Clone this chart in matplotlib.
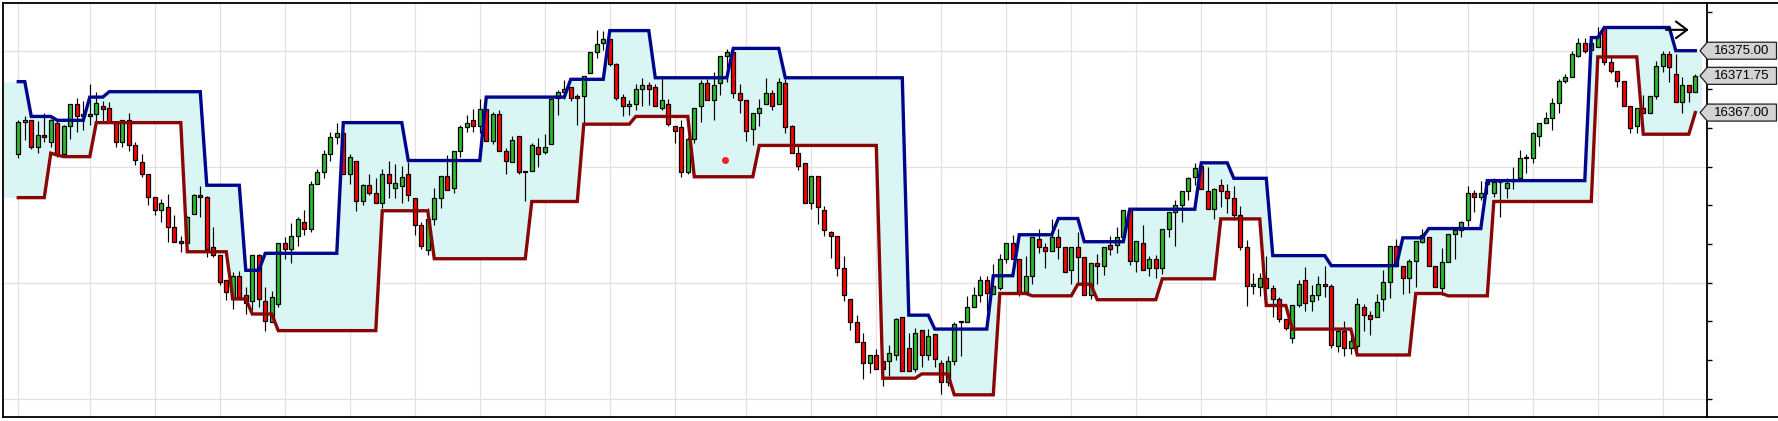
import numpy as np
import matplotlib
matplotlib.use('Agg')
import matplotlib.pyplot as plt
import matplotlib.transforms as mtransforms
from matplotlib.patches import Polygon
from matplotlib.lines import Line2D

# OHLC values, one entry per bar
opens = [16361.6, 16365.75, 16366.05, 16362.5, 16364.07, 16363.25, 16365.7, 16361.6, 16365.2, 16368.1,
         16366.5, 16366.8, 16366.8, 16367.8, 16367.6, 16365.8, 16363.25, 16366.0, 16362.8, 16360.6,
         16359.0, 16356.05, 16354.4, 16354.75, 16352.25, 16350.4, 16350.1, 16353.9, 16356.35, 16356.1,
         16349.6, 16348.6, 16345.4, 16342.85, 16345.9, 16343.4, 16342.6, 16348.6, 16342.6, 16339.9,
         16342.3, 16350.1, 16349.3, 16351.0, 16352.8, 16352.0, 16357.8, 16359.25, 16361.6, 16363.8,
         16364.3, 16359.0, 16360.8, 16355.5, 16357.6, 16356.55, 16355.25, 16359.0, 16357.3, 16357.5,
         16359.0, 16356.0, 16352.5, 16349.2, 16353.3, 16356.0, 16358.8, 16357.3, 16362.0, 16365.1,
         16366.0, 16365.25, 16367.5, 16363.3, 16366.8, 16362.0, 16360.55, 16364.0, 16359.25, 16359.5,
         16362.5, 16361.9, 16363.0, 16368.9, 16369.7, 16370.25, 16369.1, 16369.2, 16372.1, 16374.8,
         16376.0, 16376.5, 16373.3, 16369.0, 16367.8, 16368.1, 16370.0, 16370.55, 16370.3, 16367.6,
         16368.1, 16365.2, 16365.1, 16359.25, 16363.6, 16367.8, 16370.8, 16368.65, 16370.8, 16374.3,
         16374.8, 16369.5, 16368.6, 16364.9, 16367.0, 16368.1, 16369.5, 16368.1, 16370.8, 16365.2,
         16361.75, 16360.5, 16355.3, 16358.8, 16354.35, 16351.6, 16351.0, 16346.9, 16342.9, 16339.9,
         16337.3, 16334.6, 16335.65, 16334.9, 16334.9, 16335.65, 16340.5, 16336.5, 16333.85, 16338.9,
         16335.65, 16338.3, 16334.6, 16332.2, 16334.9, 16339.9, 16339.96, 16341.8, 16343.4, 16345.35,
         16343.6, 16344.3, 16348.0, 16350.1, 16348.0, 16343.75, 16345.9, 16350.6, 16349.6, 16349.1,
         16350.9, 16349.6, 16346.65, 16349.6, 16348.3, 16343.4, 16347.5, 16347.2, 16349.85, 16349.85,
         16350.9, 16354.4, 16347.8, 16350.1, 16346.9, 16348.0, 16346.9, 16352.0, 16354.1, 16355.0,
         16356.9, 16358.7, 16360.1, 16356.8, 16354.5, 16357.6, 16356.8, 16356.0, 16353.8, 16349.6,
         16344.6, 16344.5, 16345.6, 16344.3, 16342.85, 16340.25, 16337.8, 16342.1, 16345.35, 16342.6,
         16343.4, 16344.8, 16344.6, 16336.8, 16338.8, 16336.5, 16336.8, 16341.8, 16340.8, 16340.5,
         16342.85, 16345.05, 16349.8, 16347.2, 16345.6, 16347.8, 16350.3, 16350.95, 16347.1, 16344.3,
         16347.7, 16351.25, 16351.8, 16353.1, 16356.6, 16356.05, 16357.8, 16356.6, 16358.0, 16357.3,
         16358.1, 16358.5, 16361.1, 16361.1, 16364.0, 16365.7, 16366.25, 16368.3, 16371.1, 16371.6,
         16374.3, 16375.95, 16375.1, 16375.5, 16378.0, 16373.5, 16372.4, 16371.1, 16367.85, 16365.3,
         16367.55, 16367.0, 16369.1, 16373.0, 16374.6, 16372.0, 16368.4, 16370.6, 16369.7]
highs = [16366.05, 16366.5, 16366.1, 16365.9, 16367.0, 16366.2, 16365.9, 16365.4, 16368.1, 16368.9,
         16368.5, 16370.7, 16369.6, 16368.5, 16368.4, 16365.8, 16366.0, 16366.9, 16363.25, 16361.6,
         16359.0, 16356.1, 16355.8, 16356.5, 16353.8, 16351.0, 16353.6, 16356.5, 16357.56, 16356.2,
         16352.25, 16348.6, 16345.4, 16346.4, 16346.5, 16344.4, 16348.6, 16348.7, 16344.4, 16343.9,
         16350.1, 16350.9, 16352.7, 16353.5, 16354.4, 16358.1, 16359.7, 16362.1, 16364.5, 16365.7,
         16364.7, 16361.6, 16360.8, 16357.8, 16359.1, 16358.6, 16359.7, 16360.7, 16360.3, 16360.1,
         16360.6, 16356.0, 16352.8, 16354.6, 16357.2, 16358.8, 16361.5, 16362.0, 16365.4, 16366.7,
         16367.4, 16368.8, 16367.5, 16367.1, 16367.3, 16362.4, 16364.0, 16364.0, 16359.5, 16363.1,
         16363.65, 16364.2, 16368.7, 16369.9, 16371.2, 16370.25, 16369.4, 16371.75, 16374.8, 16377.7,
         16377.5, 16376.5, 16373.4, 16369.4, 16368.6, 16370.7, 16371.45, 16371.0, 16370.7, 16371.75,
         16368.7, 16365.2, 16366.0, 16363.9, 16367.6, 16371.15, 16371.3, 16372.2, 16374.3, 16375.2,
         16374.8, 16370.7, 16368.6, 16367.0, 16368.7, 16371.45, 16369.9, 16371.45, 16371.3, 16365.4,
         16362.8, 16360.5, 16358.8, 16358.8, 16354.9, 16351.7, 16351.0, 16348.4, 16342.9, 16340.85,
         16338.45, 16335.65, 16336.4, 16334.9, 16336.95, 16340.4, 16340.5, 16338.45, 16339.2, 16338.9,
         16338.95, 16338.3, 16335.0, 16335.5, 16339.96, 16340.05, 16343.3, 16344.5, 16345.8, 16345.8,
         16347.4, 16348.7, 16350.1, 16351.2, 16348.0, 16348.45, 16350.95, 16351.9, 16350.1, 16353.2,
         16352.0, 16349.6, 16349.6, 16351.5, 16348.3, 16347.5, 16348.7, 16349.6, 16351.1, 16352.2,
         16354.4, 16354.4, 16350.35, 16352.5, 16348.4, 16348.6, 16352.0, 16354.1, 16355.7, 16356.9,
         16358.7, 16360.5, 16360.4, 16360.0, 16357.2, 16358.4, 16357.8, 16357.5, 16354.9, 16350.5,
         16346.2, 16346.2, 16348.5, 16344.7, 16343.2, 16340.25, 16342.1, 16345.4, 16347.0, 16344.7,
         16345.9, 16347.2, 16344.8, 16339.0, 16340.0, 16338.5, 16343.0, 16342.3, 16341.3, 16343.5,
         16346.7, 16349.8, 16350.7, 16347.2, 16348.0, 16350.4, 16351.9, 16350.95, 16347.1, 16349.45,
         16351.25, 16351.8, 16352.97, 16357.5, 16357.0, 16358.15, 16358.3, 16358.6, 16358.1, 16358.6,
         16360.0, 16362.2, 16361.6, 16364.5, 16365.7, 16367.1, 16368.85, 16371.4, 16372.0, 16374.9,
         16376.7, 16376.6, 16376.8, 16378.1, 16378.0, 16374.2, 16372.4, 16371.1, 16367.85, 16367.55,
         16369.3, 16369.2, 16373.7, 16374.9, 16374.9, 16374.6, 16371.65, 16370.6, 16372.0]
lows = [16361.1, 16363.5, 16362.3, 16361.75, 16363.25, 16362.5, 16361.3, 16361.5, 16363.6, 16364.5,
        16364.8, 16365.4, 16365.8, 16365.8, 16365.6, 16362.5, 16362.5, 16362.0, 16360.2, 16358.7,
        16355.0, 16353.8, 16352.8, 16350.3, 16350.3, 16349.0, 16350.1, 16353.9, 16353.55, 16348.3,
        16348.3, 16344.7, 16342.8, 16341.55, 16343.1, 16341.0, 16341.5, 16341.8, 16338.8, 16339.9,
        16341.8, 16348.0, 16347.5, 16349.7, 16351.2, 16351.5, 16357.8, 16358.5, 16360.8, 16363.0,
        16359.0, 16357.8, 16354.3, 16355.0, 16356.3, 16355.25, 16354.6, 16356.0, 16356.0, 16355.25,
        16355.5, 16351.2, 16349.3, 16348.6, 16352.5, 16354.7, 16357.05, 16356.55, 16361.3, 16364.5,
        16364.5, 16364.3, 16363.3, 16363.0, 16362.0, 16359.0, 16360.55, 16359.0, 16355.5, 16359.5,
        16360.0, 16361.6, 16363.0, 16366.7, 16368.8, 16368.5, 16365.4, 16365.6, 16372.1, 16374.0,
        16375.1, 16373.0, 16368.65, 16366.6, 16366.7, 16367.3, 16367.9, 16368.0, 16367.9, 16367.3,
        16365.2, 16363.05, 16358.7, 16359.1, 16363.05, 16365.8, 16368.65, 16366.0, 16369.3, 16371.0,
        16368.9, 16367.0, 16363.3, 16362.8, 16365.2, 16368.1, 16367.35, 16368.1, 16364.3, 16361.75,
        16359.6, 16355.3, 16354.5, 16352.6, 16351.0, 16348.25, 16345.8, 16342.6, 16338.9, 16337.3,
        16332.6, 16333.3, 16333.8, 16331.6, 16332.9, 16335.0, 16333.6, 16333.6, 16333.5, 16334.1,
        16335.0, 16334.05, 16330.6, 16331.6, 16334.4, 16335.5, 16339.96, 16341.8, 16342.5, 16341.3,
        16343.6, 16344.0, 16347.5, 16348.0, 16343.3, 16343.75, 16344.8, 16348.8, 16346.9, 16349.1,
        16348.0, 16346.35, 16344.8, 16344.8, 16343.4, 16342.85, 16344.8, 16346.0, 16348.6, 16348.8,
        16350.9, 16347.3, 16346.35, 16346.65, 16345.8, 16345.6, 16346.1, 16350.9, 16349.8, 16352.8,
        16355.7, 16357.6, 16357.1, 16354.5, 16353.3, 16354.75, 16354.05, 16353.1, 16349.2, 16342.0,
        16343.5, 16343.3, 16344.3, 16340.5, 16339.9, 16338.9, 16337.2, 16341.9, 16341.3, 16341.3,
        16342.8, 16343.2, 16336.5, 16336.0, 16335.5, 16335.8, 16336.2, 16338.7, 16338.2, 16340.5,
        16341.3, 16343.0, 16347.1, 16343.6, 16343.7, 16344.5, 16350.1, 16347.1, 16344.5, 16343.4,
        16347.7, 16348.0, 16350.95, 16352.3, 16354.1, 16355.7, 16356.5, 16356.05, 16353.5, 16356.0,
        16357.1, 16358.5, 16359.2, 16360.5, 16362.7, 16365.7, 16364.8, 16366.9, 16370.8, 16371.6,
        16374.15, 16374.7, 16375.0, 16375.5, 16373.15, 16372.1, 16370.3, 16367.8, 16364.4, 16364.4,
        16366.9, 16367.0, 16368.7, 16372.2, 16371.0, 16368.4, 16367.0, 16368.4, 16369.7]
closes = [16365.75, 16366.05, 16362.5, 16364.07, 16363.8, 16366.0, 16361.6, 16365.2, 16368.1, 16366.6,
          16366.8, 16366.5, 16368.3, 16367.5, 16365.8, 16363.25, 16366.0, 16362.8, 16360.9, 16359.0,
          16356.05, 16354.4, 16355.3, 16352.25, 16350.3, 16350.1, 16353.55, 16356.35, 16356.05, 16349.3,
          16348.6, 16345.05, 16343.8, 16345.9, 16343.1, 16342.4, 16348.6, 16342.85, 16340.05, 16343.1,
          16350.1, 16349.3, 16351.0, 16353.3, 16352.0, 16357.8, 16359.25, 16361.7, 16363.8, 16364.3,
          16359.0, 16361.3, 16355.5, 16357.6, 16356.55, 16355.25, 16359.0, 16357.9, 16357.9, 16358.7,
          16356.3, 16352.5, 16349.8, 16353.3, 16356.0, 16358.8, 16357.05, 16362.0, 16365.1, 16365.7,
          16365.2, 16367.5, 16363.3, 16366.8, 16362.0, 16360.8, 16363.5, 16359.25, 16359.5, 16362.75,
          16361.7, 16362.5, 16368.7, 16369.7, 16370.0, 16368.9, 16368.9, 16371.75, 16374.8, 16375.9,
          16376.5, 16373.3, 16368.9, 16367.9, 16368.1, 16370.0, 16370.55, 16370.0, 16367.9, 16368.6,
          16365.5, 16364.65, 16359.3, 16363.6, 16367.6, 16370.8, 16368.65, 16370.6, 16374.3, 16374.8,
          16369.5, 16368.65, 16364.65, 16367.0, 16367.6, 16369.5, 16367.9, 16371.0, 16365.1, 16361.75,
          16360.1, 16355.3, 16358.8, 16354.8, 16351.85, 16351.05, 16346.9, 16343.35, 16339.9, 16337.3,
          16334.6, 16335.65, 16333.8, 16333.8, 16335.9, 16340.3, 16333.6, 16333.6, 16338.5, 16335.65,
          16338.1, 16335.15, 16332.2, 16334.9, 16339.6, 16340.05, 16341.8, 16343.4, 16345.35, 16343.7,
          16344.6, 16348.1, 16350.1, 16348.0, 16343.75, 16345.9, 16350.95, 16349.6, 16349.1, 16350.9,
          16349.6, 16346.35, 16349.6, 16348.3, 16343.4, 16347.5, 16347.2, 16349.6, 16349.3, 16350.9,
          16354.4, 16347.8, 16350.35, 16346.65, 16348.0, 16346.9, 16352.0, 16354.1, 16355.0, 16356.9,
          16358.5, 16359.8, 16357.1, 16354.5, 16357.1, 16356.8, 16356.0, 16353.8, 16349.6, 16344.6,
          16344.8, 16345.6, 16344.3, 16342.85, 16340.25, 16339.1, 16342.1, 16344.8, 16342.4, 16343.4,
          16344.8, 16344.6, 16337.0, 16338.8, 16336.5, 16337.5, 16342.3, 16340.8, 16340.3, 16342.55,
          16345.05, 16349.8, 16347.1, 16345.6, 16347.8, 16350.4, 16351.2, 16347.2, 16344.5, 16347.7,
          16351.25, 16351.8, 16352.8, 16356.6, 16356.05, 16356.6, 16358.0, 16358.0, 16358.0, 16357.85,
          16358.45, 16361.1, 16361.3, 16364.3, 16365.7, 16366.25, 16368.3, 16371.1, 16371.6, 16374.6,
          16375.95, 16374.9, 16375.95, 16376.9, 16373.5, 16372.4, 16371.1, 16367.85, 16365.05, 16367.55,
          16367.0, 16369.2, 16373.0, 16374.6, 16372.9, 16368.4, 16370.6, 16369.7, 16371.75]

# channel lines as (level, number of bars) runs
upper_levels = [16371.0, 16366.5, 16366.0, 16369.0, 16369.7, 16357.6, 16346.6, 16348.8, 16365.7, 16360.8,
                16369.0, 16371.3, 16377.6, 16371.5, 16375.3, 16371.5, 16340.8, 16339.0, 16345.9, 16351.2,
                16353.3, 16350.3, 16354.5, 16360.5, 16358.5, 16348.5, 16347.2, 16350.8, 16352.0, 16358.2,
                16376.7, 16378.0, 16375.0]
upper_counts = [2, 4, 5, 3, 15, 6, 3, 12, 10, 12, 13, 6, 7, 12, 8, 19, 4, 9, 4, 6, 4, 7, 11, 5, 6, 9, 11,
                4, 9, 16, 2, 11, 4]
lower_levels = [16356.0, 16361.75, 16361.5, 16361.3, 16365.7, 16349.0, 16342.9, 16340.95, 16338.8, 16354.3,
                16348.1, 16355.5, 16365.5, 16366.5, 16358.7, 16362.75, 16332.65, 16333.2, 16330.5, 16343.6,
                16343.3, 16344.8, 16342.8, 16345.5, 16353.25, 16342.05, 16339.0, 16335.65, 16343.6, 16343.3,
                16355.5, 16374.2, 16364.2, 16367.0]
lower_counts = [5, 1, 1, 5, 14, 7, 3, 4, 16, 8, 15, 8, 8, 9, 10, 19, 6, 5, 7, 5, 7, 3, 10, 9, 7, 4, 10, 9,
                5, 7, 16, 7, 8, 1]

grid_bars = [0, 11, 21, 31, 41, 51, 61, 71, 81, 91, 101, 112, 122, 132, 142, 152, 162, 172, 182, 192,
             202, 212, 223, 233, 243, 253]
marker_bar, marker_price = 108.75, 16360.9
arrow_from, arrow_to, arrow_price = 253.5, 257.0, 16377.7

opens = np.array(opens)
highs = np.array(highs)
lows = np.array(lows)
closes = np.array(closes)
upper = np.repeat(upper_levels, upper_counts)
lower = np.repeat(lower_levels, lower_counts)
x = np.arange(len(closes))

W, H = 1778, 421
fig = plt.figure(figsize=(W / 100, H / 100), dpi=100)
ax = fig.add_axes([3 / W, 4 / H, 1704 / W, 414 / H])
xmin, xmax = -2.35, 259.8
ymin, ymax = 16327.63, 16381.17
ax.set_xlim(xmin, xmax)
ax.set_ylim(ymin, ymax)

# grid
ax.set_xticks(grid_bars)
ax.set_yticks(np.arange(16330, 16381, 15))
ax.set_yticks(np.arange(16330, 16381, 5), minor=True)
ax.grid(True, which='major', color='#e2e2e2', linewidth=0.9, zorder=0)
ax.set_axisbelow(True)
ax.tick_params(axis='x', length=0, labelbottom=False)
ax.tick_params(axis='y', which='both', left=False, right=True, labelleft=False, labelright=False,
               direction='out', length=3.8, width=1.0, color='black')
for s in ax.spines.values():
    s.set_linewidth(1.3)
    s.set_color('black')

# channel fill, stretched to the edges like the platform does
xf = np.concatenate([[xmin], x, [x[-1] + 0.95]])
uf = np.concatenate([[upper[0]], upper, [upper[-1]]])
lf = np.concatenate([[lower[0]], lower, [lower[-1]]])
ax.fill_between(xf, lf, uf, color='#d9f6f4', linewidth=0, zorder=1)

# candles
up = closes >= opens
colors = np.where(up, '#2cbb2c', '#ff0000')
ax.vlines(x, lows, highs, color='black', linewidth=0.85, zorder=2)
body_lo = np.minimum(opens, closes)
body_h = np.maximum(np.abs(closes - opens), 0.08)
ax.bar(x, body_h, bottom=body_lo, width=0.66, color=colors, edgecolor='black', linewidth=0.9, zorder=3)

# channel lines
ax.plot(x, upper, color='#00058c', linewidth=2.4, solid_joinstyle='miter', zorder=4)
ax.plot(x, lower, color='#8a0606', linewidth=2.4, solid_joinstyle='miter', zorder=4)

ax.plot(marker_bar, marker_price, 'o', color='#ee2222', markersize=4, zorder=5)
ax.annotate('', xy=(arrow_to, arrow_price), xytext=(arrow_from, arrow_price),
            arrowprops=dict(arrowstyle='->,head_length=0.4,head_width=0.3', lw=1.5, color='black',
                            mutation_scale=20, shrinkA=0, shrinkB=0), zorder=6)

# price tags on the right axis
trans = mtransforms.blended_transform_factory(fig.transFigure, ax.transData)
half = 8.5 / (414 / (ymax - ymin))
for val in [upper[-1], closes[-1], lower[-1]]:
    pts = [(1700 / W, val), (1707.3 / W, val + half), (1776.5 / W, val + half),
           (1776.5 / W, val - half), (1707.3 / W, val - half)]
    ax.add_patch(Polygon(pts, closed=True, facecolor='#d3d3d3', edgecolor='#202020', linewidth=0.9,
                         transform=trans, clip_on=False, zorder=7))
    ax.text(1742 / W, val, f'{val:.2f}', transform=trans, ha='center', va='center',
            fontsize=9.5, family='Liberation Sans', color='black', clip_on=False, zorder=8)

# frame lines continuing under the price scale
fig.add_artist(Line2D([1707 / W, 1.0], [418 / H, 418 / H], color='black', linewidth=1.3))
fig.add_artist(Line2D([1707 / W, 1.0], [4 / H, 4 / H], color='black', linewidth=1.3))

fig.savefig('out.png', dpi=100)
